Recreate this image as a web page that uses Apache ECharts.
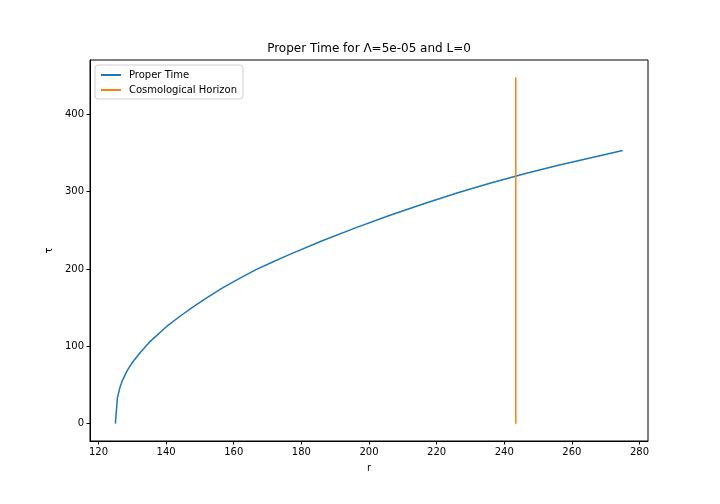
<!DOCTYPE html>
<html>
<head>
<meta charset="utf-8">
<script src="https://cdn.jsdelivr.net/npm/echarts@6/dist/echarts.min.js"></script>
<style>html,body{margin:0;padding:0;background:#fff}#c{width:720px;height:504px}</style>
</head>
<body>
<div id="c"></div>
<script>
const rValues   = [125, 125.6, 126.3, 127.1, 128.5, 130, 132.5, 135, 140, 144, 148, 152, 156.7, 161.6, 166.6, 171.5, 176.4, 186, 196, 206, 216, 226, 236, 246, 256, 266, 275];
const tauValues = [0, 33, 46, 56, 68.5, 79, 92.5, 105, 125, 138.5, 151, 162.5, 175.5, 187.5, 199, 209, 218.5, 236, 253, 269, 284, 298, 311, 323, 334, 344, 353];
const horizonR = 243.4;
const horizonTau = [0, 447.7];
const xTicks = [120, 140, 160, 180, 200, 220, 240, 260, 280];
const yTicks = [0, 100, 200, 300, 400];
const titleText = 'Proper Time for Λ=5e-05 and L=0';
const seriesNames = ['Proper Time', 'Cosmological Horizon'];

const font = 'DejaVu Sans';
const chart = echarts.init(document.getElementById('c'), null, {renderer: 'canvas'});
chart.setOption({
  animation: false,
  backgroundColor: '#fff',
  textStyle: {fontFamily: font},
  title: {
    text: titleText, left: 369, top: 43, padding: 0, textAlign: 'center',
    textStyle: {fontFamily: font, fontSize: 12, fontWeight: 'normal', color: '#000'}
  },
  legend: {
    orient: 'vertical', left: 95, top: 65,
    padding: [5, 6, 4, 6], itemGap: 5,
    itemWidth: 20, itemHeight: 2, icon: 'rect',
    borderColor: '#d0d0d0', borderWidth: 1, borderRadius: 3,
    textStyle: {fontFamily: font, fontSize: 10, color: '#000', padding: [0, 0, 0, 3]},
    data: seriesNames
  },
  grid: {left: 90, right: 72, top: 60, bottom: 63, show: true, borderColor: '#000', borderWidth: 1, containLabel: false},
  xAxis: {
    type: 'value', min: 117.5, max: 282.5,
    name: 'r', nameLocation: 'middle', nameGap: 22,
    nameTextStyle: {fontFamily: font, fontSize: 10, color: '#000'},
    axisLine: {show: true, onZero: false, lineStyle: {color: '#000', width: 1}},
    axisTick: {show: true, length: 3.5, lineStyle: {color: '#000'}, customValues: xTicks},
    axisLabel: {fontFamily: font, fontSize: 10, color: '#000', margin: 6, customValues: xTicks},
    splitLine: {show: false}
  },
  yAxis: {
    type: 'value', min: -22.4, max: 470,
    name: 'τ', nameLocation: 'middle', nameGap: 34, nameRotate: 90,
    nameTextStyle: {fontFamily: font, fontSize: 10, color: '#000'},
    axisLine: {show: true, onZero: false, lineStyle: {color: '#000', width: 1}},
    axisTick: {show: true, length: 3.5, lineStyle: {color: '#000'}, customValues: yTicks},
    axisLabel: {fontFamily: font, fontSize: 10, color: '#000', margin: 6, customValues: yTicks},
    splitLine: {show: false}
  },
  series: [
    {
      name: seriesNames[0], type: 'line', showSymbol: false, smooth: false,
      itemStyle: {color: '#1f77b4'},
      lineStyle: {color: '#1f77b4', width: 1.5, join: 'round'},
      data: rValues.map((r, i) => [r, tauValues[i]])
    },
    {
      name: seriesNames[1], type: 'line', showSymbol: false,
      itemStyle: {color: '#ff7f0e'},
      lineStyle: {color: '#ff7f0e', width: 1.5},
      data: horizonTau.map(t => [horizonR, t])
    }
  ]
});
</script>
</body>
</html>
